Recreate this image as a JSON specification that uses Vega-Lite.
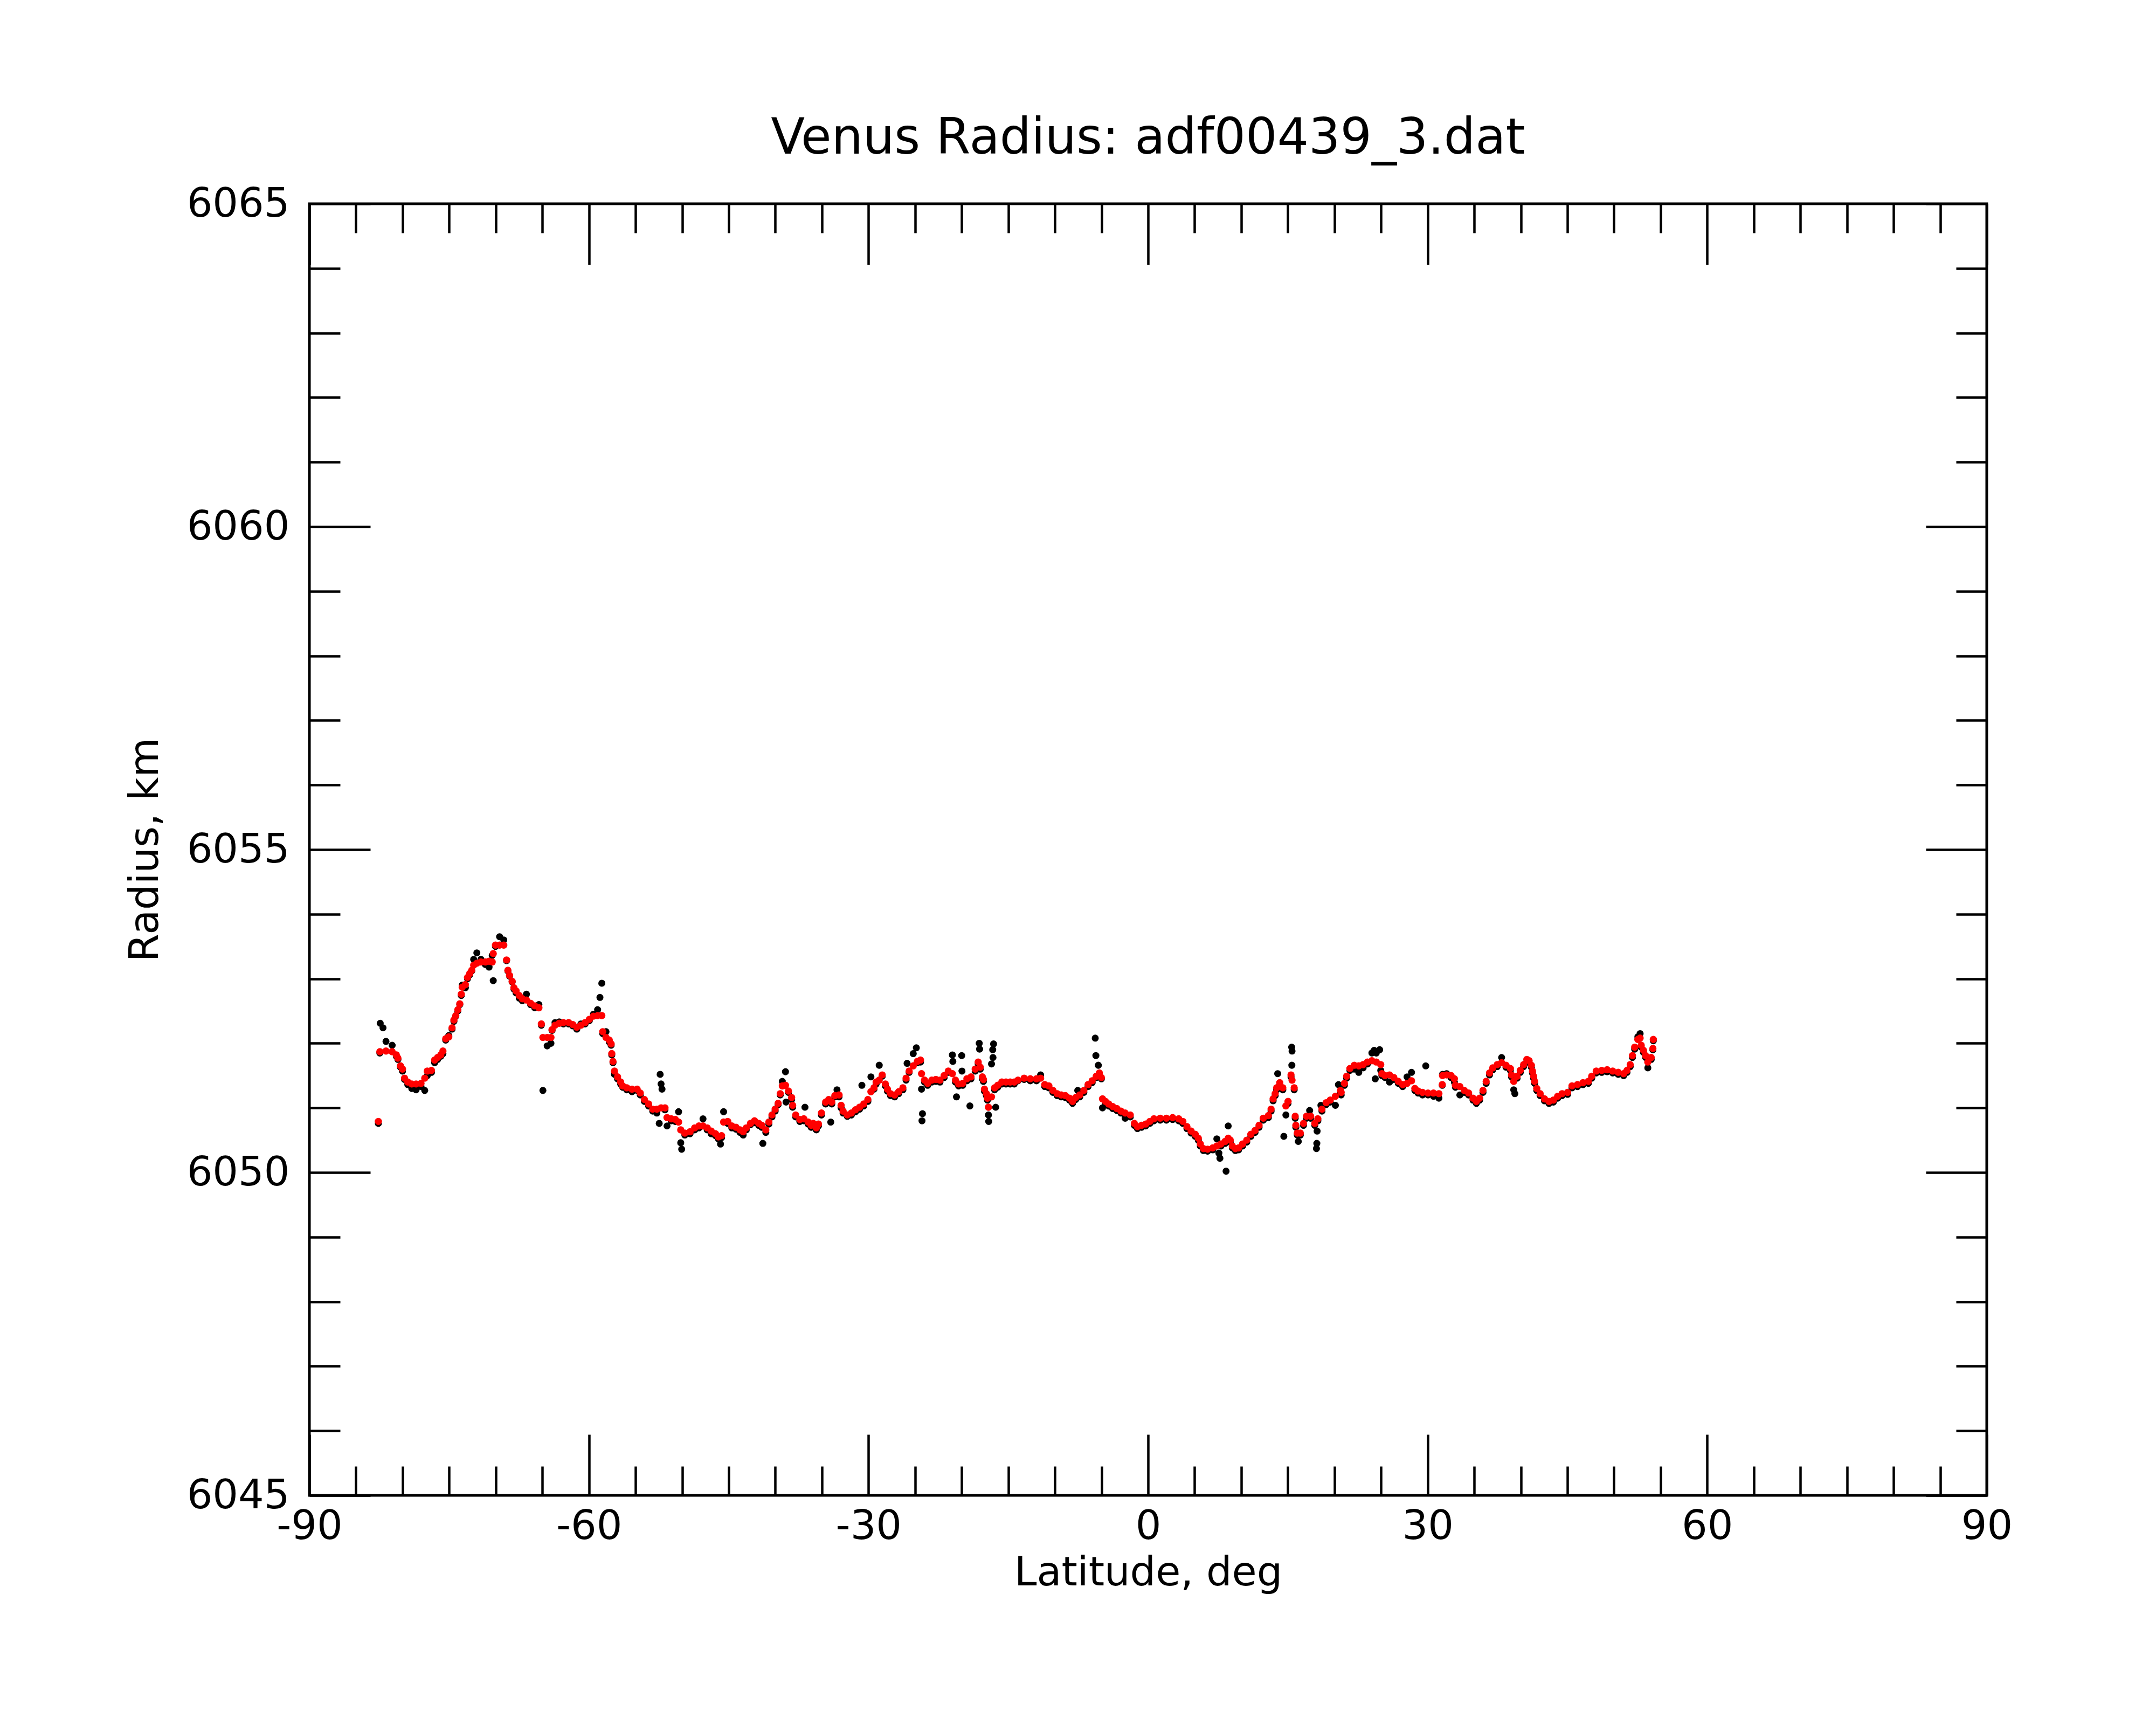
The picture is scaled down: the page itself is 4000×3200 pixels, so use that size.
{
  "$schema": "https://vega.github.io/schema/vega-lite/v6.json",
  "width": 3112,
  "height": 2396,
  "autosize": {"type": "none"},
  "padding": {"left": 574, "top": 378, "right": 314, "bottom": 426},
  "background": "white",
  "title": {
    "text": "Venus Radius: adf00439_3.dat",
    "font": "DejaVu Sans",
    "fontSize": 92,
    "fontWeight": "normal",
    "color": "black",
    "anchor": "middle",
    "frame": "group",
    "baseline": "alphabetic",
    "offset": -36
  },
  "data": {
    "values": [
      {"lat": -82.6, "raw": 6050.76, "fit": 6050.79},
      {"lat": -82.44, "raw": 6051.85, "fit": 6051.87},
      {"lat": -82.4, "raw": 6052.31},
      {"lat": -82.1, "raw": 6052.24},
      {"lat": -81.78, "raw": 6052.03, "fit": 6051.88},
      {"lat": -81.12, "raw": 6051.97, "fit": 6051.87},
      {"lat": -80.67, "raw": 6051.8, "fit": 6051.82},
      {"lat": -80.5, "raw": 6051.75, "fit": 6051.77},
      {"lat": -80.23, "raw": 6051.63, "fit": 6051.65},
      {"lat": -80.01, "raw": 6051.57, "fit": 6051.6},
      {"lat": -79.79, "raw": 6051.44, "fit": 6051.46},
      {"lat": -79.44, "raw": 6051.36, "fit": 6051.4},
      {"lat": -79.01, "raw": 6051.3, "fit": 6051.37},
      {"lat": -78.55, "raw": 6051.28, "fit": 6051.37},
      {"lat": -78.02, "raw": 6051.33, "fit": 6051.38},
      {"lat": -77.62, "raw": 6051.27, "fit": 6051.46},
      {"lat": -77.35, "raw": 6051.5, "fit": 6051.57},
      {"lat": -76.9, "raw": 6051.55, "fit": 6051.58},
      {"lat": -76.56, "raw": 6051.7, "fit": 6051.74},
      {"lat": -76.24, "raw": 6051.75, "fit": 6051.78},
      {"lat": -75.9, "raw": 6051.8, "fit": 6051.82},
      {"lat": -75.67, "raw": 6051.84, "fit": 6051.88},
      {"lat": -75.37, "raw": 6052.05, "fit": 6052.07},
      {"lat": -75.04, "raw": 6052.12, "fit": 6052.1},
      {"lat": -74.69, "raw": 6052.22, "fit": 6052.24},
      {"lat": -74.49, "raw": 6052.34, "fit": 6052.36},
      {"lat": -74.29, "raw": 6052.42, "fit": 6052.43},
      {"lat": -74.07, "raw": 6052.5, "fit": 6052.52},
      {"lat": -73.86, "raw": 6052.6, "fit": 6052.61},
      {"lat": -73.7, "raw": 6052.74, "fit": 6052.76},
      {"lat": -73.6, "raw": 6052.9, "fit": 6052.87},
      {"lat": -73.26, "raw": 6052.86, "fit": 6052.91},
      {"lat": -73.03, "raw": 6053.0, "fit": 6053.02},
      {"lat": -72.8, "raw": 6053.06, "fit": 6053.08},
      {"lat": -72.58, "raw": 6053.12, "fit": 6053.13},
      {"lat": -72.37, "raw": 6053.3, "fit": 6053.21},
      {"lat": -72.03, "raw": 6053.4, "fit": 6053.24},
      {"lat": -71.59, "raw": 6053.3, "fit": 6053.26},
      {"lat": -71.12, "raw": 6053.22, "fit": 6053.26},
      {"lat": -70.72, "raw": 6053.18, "fit": 6053.27},
      {"lat": -70.38, "raw": 6053.36, "fit": 6053.26},
      {"lat": -70.27, "raw": 6052.97, "fit": 6053.39},
      {"lat": -70.03, "raw": 6053.5, "fit": 6053.52},
      {"lat": -69.59, "raw": 6053.65, "fit": 6053.52},
      {"lat": -69.14, "raw": 6053.6, "fit": 6053.52},
      {"lat": -68.84, "raw": 6053.28, "fit": 6053.29},
      {"lat": -68.7, "raw": 6053.12, "fit": 6053.13},
      {"lat": -68.52, "raw": 6053.04, "fit": 6053.05},
      {"lat": -68.24, "raw": 6052.95, "fit": 6052.96},
      {"lat": -68.05, "raw": 6052.84, "fit": 6052.86},
      {"lat": -67.82, "raw": 6052.78, "fit": 6052.81},
      {"lat": -67.48, "raw": 6052.7, "fit": 6052.74},
      {"lat": -67.15, "raw": 6052.66, "fit": 6052.69},
      {"lat": -66.71, "raw": 6052.76, "fit": 6052.67},
      {"lat": -66.26, "raw": 6052.6, "fit": 6052.62},
      {"lat": -65.82, "raw": 6052.55, "fit": 6052.58},
      {"lat": -65.37, "raw": 6052.6, "fit": 6052.55},
      {"lat": -65.11, "raw": 6052.28, "fit": 6052.3},
      {"lat": -64.94, "raw": 6051.27, "fit": 6052.09},
      {"lat": -64.48, "raw": 6051.96, "fit": 6052.09},
      {"lat": -64.08, "raw": 6052.0, "fit": 6052.09},
      {"lat": -63.96, "raw": 6052.2, "fit": 6052.21},
      {"lat": -63.64, "raw": 6052.32, "fit": 6052.28},
      {"lat": -63.19, "raw": 6052.33, "fit": 6052.31},
      {"lat": -62.74, "raw": 6052.3, "fit": 6052.32},
      {"lat": -62.18, "raw": 6052.3, "fit": 6052.32},
      {"lat": -61.73, "raw": 6052.27, "fit": 6052.29},
      {"lat": -61.3, "raw": 6052.22, "fit": 6052.25},
      {"lat": -60.86, "raw": 6052.3, "fit": 6052.28},
      {"lat": -60.41, "raw": 6052.3, "fit": 6052.32},
      {"lat": -59.96, "raw": 6052.35, "fit": 6052.37},
      {"lat": -59.52, "raw": 6052.45, "fit": 6052.42},
      {"lat": -59.07, "raw": 6052.52, "fit": 6052.43},
      {"lat": -58.82, "raw": 6052.71},
      {"lat": -58.62, "raw": 6052.93, "fit": 6052.43},
      {"lat": -58.52, "raw": 6052.15, "fit": 6052.18},
      {"lat": -58.17, "raw": 6052.18, "fit": 6052.09},
      {"lat": -57.82, "raw": 6052.02, "fit": 6052.05},
      {"lat": -57.62, "raw": 6051.97, "fit": 6051.99},
      {"lat": -57.55, "raw": 6051.82, "fit": 6051.84},
      {"lat": -57.42, "raw": 6051.7, "fit": 6051.72},
      {"lat": -57.26, "raw": 6051.52, "fit": 6051.57},
      {"lat": -56.93, "raw": 6051.45, "fit": 6051.48},
      {"lat": -56.6, "raw": 6051.37, "fit": 6051.4},
      {"lat": -56.38, "raw": 6051.32, "fit": 6051.34},
      {"lat": -55.94, "raw": 6051.28, "fit": 6051.31},
      {"lat": -55.38, "raw": 6051.25, "fit": 6051.29},
      {"lat": -54.83, "raw": 6051.27, "fit": 6051.29},
      {"lat": -54.49, "raw": 6051.2, "fit": 6051.23},
      {"lat": -54.05, "raw": 6051.1, "fit": 6051.13},
      {"lat": -53.6, "raw": 6051.03, "fit": 6051.06},
      {"lat": -53.15, "raw": 6050.95, "fit": 6050.98},
      {"lat": -52.71, "raw": 6050.92, "fit": 6050.98},
      {"lat": -52.46, "raw": 6050.76},
      {"lat": -52.36, "raw": 6051.52},
      {"lat": -52.26, "raw": 6051.37, "fit": 6051.0},
      {"lat": -52.16, "raw": 6051.29},
      {"lat": -51.84, "raw": 6050.97, "fit": 6051.0},
      {"lat": -51.62, "raw": 6050.72, "fit": 6050.85},
      {"lat": -51.17, "raw": 6050.8, "fit": 6050.83},
      {"lat": -50.73, "raw": 6050.79, "fit": 6050.82},
      {"lat": -50.38, "raw": 6050.94, "fit": 6050.78},
      {"lat": -50.15, "raw": 6050.46, "fit": 6050.66},
      {"lat": -50.05, "raw": 6050.36},
      {"lat": -49.71, "raw": 6050.58, "fit": 6050.61},
      {"lat": -49.15, "raw": 6050.6, "fit": 6050.63},
      {"lat": -48.65, "raw": 6050.66, "fit": 6050.69},
      {"lat": -48.2, "raw": 6050.69, "fit": 6050.72},
      {"lat": -47.76, "raw": 6050.83, "fit": 6050.72},
      {"lat": -47.31, "raw": 6050.66, "fit": 6050.69},
      {"lat": -46.88, "raw": 6050.6, "fit": 6050.64},
      {"lat": -46.42, "raw": 6050.57, "fit": 6050.6},
      {"lat": -46.11, "raw": 6050.52, "fit": 6050.55},
      {"lat": -45.88, "raw": 6050.44},
      {"lat": -45.77, "raw": 6050.54, "fit": 6050.57},
      {"lat": -45.55, "raw": 6050.94, "fit": 6050.78},
      {"lat": -45.11, "raw": 6050.76, "fit": 6050.79},
      {"lat": -44.67, "raw": 6050.69, "fit": 6050.72},
      {"lat": -44.22, "raw": 6050.67, "fit": 6050.7},
      {"lat": -43.79, "raw": 6050.62, "fit": 6050.66},
      {"lat": -43.45, "raw": 6050.58, "fit": 6050.63},
      {"lat": -43.12, "raw": 6050.66, "fit": 6050.69},
      {"lat": -42.67, "raw": 6050.74, "fit": 6050.76},
      {"lat": -42.23, "raw": 6050.77, "fit": 6050.8},
      {"lat": -41.78, "raw": 6050.73, "fit": 6050.76},
      {"lat": -41.46, "raw": 6050.7, "fit": 6050.73},
      {"lat": -41.34, "raw": 6050.45},
      {"lat": -41.02, "raw": 6050.62, "fit": 6050.66},
      {"lat": -40.69, "raw": 6050.75, "fit": 6050.78},
      {"lat": -40.36, "raw": 6050.86, "fit": 6050.89},
      {"lat": -40.02, "raw": 6050.95, "fit": 6050.98},
      {"lat": -39.7, "raw": 6051.05, "fit": 6051.07},
      {"lat": -39.47, "raw": 6051.2, "fit": 6051.22},
      {"lat": -39.25, "raw": 6051.41, "fit": 6051.34},
      {"lat": -38.91, "raw": 6051.56, "fit": 6051.35},
      {"lat": -38.85, "raw": 6051.09},
      {"lat": -38.59, "raw": 6051.24, "fit": 6051.26},
      {"lat": -38.25, "raw": 6051.13, "fit": 6051.16},
      {"lat": -38.14, "raw": 6051.01, "fit": 6051.04},
      {"lat": -37.81, "raw": 6050.86, "fit": 6050.89},
      {"lat": -37.37, "raw": 6050.79, "fit": 6050.82},
      {"lat": -36.94, "raw": 6050.8, "fit": 6050.83},
      {"lat": -36.82, "raw": 6051.01},
      {"lat": -36.48, "raw": 6050.75, "fit": 6050.78},
      {"lat": -36.15, "raw": 6050.7, "fit": 6050.73},
      {"lat": -35.93, "raw": 6050.73, "fit": 6050.76},
      {"lat": -35.6, "raw": 6050.66, "fit": 6050.69},
      {"lat": -35.37, "raw": 6050.72, "fit": 6050.75},
      {"lat": -35.05, "raw": 6050.89, "fit": 6050.92},
      {"lat": -34.6, "raw": 6051.06, "fit": 6051.09},
      {"lat": -34.27, "raw": 6051.1, "fit": 6051.13},
      {"lat": -34.05, "raw": 6050.78},
      {"lat": -33.94, "raw": 6051.06, "fit": 6051.09},
      {"lat": -33.61, "raw": 6051.17, "fit": 6051.19},
      {"lat": -33.38, "raw": 6051.28},
      {"lat": -33.16, "raw": 6051.17, "fit": 6051.2},
      {"lat": -32.94, "raw": 6051.0, "fit": 6051.04},
      {"lat": -32.73, "raw": 6050.92, "fit": 6050.95},
      {"lat": -32.28, "raw": 6050.87, "fit": 6050.89},
      {"lat": -31.84, "raw": 6050.89, "fit": 6050.92},
      {"lat": -31.4, "raw": 6050.94, "fit": 6050.97},
      {"lat": -30.96, "raw": 6050.98, "fit": 6051.01},
      {"lat": -30.71, "raw": 6051.35},
      {"lat": -30.51, "raw": 6051.03, "fit": 6051.06},
      {"lat": -30.07, "raw": 6051.1, "fit": 6051.13},
      {"lat": -29.74, "raw": 6051.48, "fit": 6051.25},
      {"lat": -29.41, "raw": 6051.29, "fit": 6051.31},
      {"lat": -29.18, "raw": 6051.37, "fit": 6051.4},
      {"lat": -28.85, "raw": 6051.66, "fit": 6051.43},
      {"lat": -28.53, "raw": 6051.49, "fit": 6051.51},
      {"lat": -28.19, "raw": 6051.34, "fit": 6051.37},
      {"lat": -27.97, "raw": 6051.26, "fit": 6051.29},
      {"lat": -27.64, "raw": 6051.19, "fit": 6051.22},
      {"lat": -27.19, "raw": 6051.17, "fit": 6051.2},
      {"lat": -26.76, "raw": 6051.22, "fit": 6051.25},
      {"lat": -26.31, "raw": 6051.28, "fit": 6051.31},
      {"lat": -25.97, "raw": 6051.43, "fit": 6051.46},
      {"lat": -25.86, "raw": 6051.69},
      {"lat": -25.64, "raw": 6051.55, "fit": 6051.57},
      {"lat": -25.2, "raw": 6051.84, "fit": 6051.65},
      {"lat": -24.87, "raw": 6051.93},
      {"lat": -24.76, "raw": 6051.7, "fit": 6051.72},
      {"lat": -24.42, "raw": 6051.71, "fit": 6051.74},
      {"lat": -24.31, "raw": 6051.29, "fit": 6051.53},
      {"lat": -24.26, "raw": 6050.8},
      {"lat": -24.21, "raw": 6050.91},
      {"lat": -23.99, "raw": 6051.4, "fit": 6051.43},
      {"lat": -23.65, "raw": 6051.35, "fit": 6051.38},
      {"lat": -23.21, "raw": 6051.4, "fit": 6051.43},
      {"lat": -22.77, "raw": 6051.41, "fit": 6051.44},
      {"lat": -22.33, "raw": 6051.4, "fit": 6051.43},
      {"lat": -21.88, "raw": 6051.47, "fit": 6051.5},
      {"lat": -21.44, "raw": 6051.55, "fit": 6051.57},
      {"lat": -21.0, "raw": 6051.82, "fit": 6051.53},
      {"lat": -20.95, "raw": 6051.72},
      {"lat": -20.67, "raw": 6051.4, "fit": 6051.43},
      {"lat": -20.56, "raw": 6051.17},
      {"lat": -20.33, "raw": 6051.34, "fit": 6051.37},
      {"lat": -20.0, "raw": 6051.81},
      {"lat": -19.97, "raw": 6051.57},
      {"lat": -19.89, "raw": 6051.35, "fit": 6051.38},
      {"lat": -19.44, "raw": 6051.42, "fit": 6051.45},
      {"lat": -19.12, "raw": 6051.03},
      {"lat": -19.0, "raw": 6051.45, "fit": 6051.48},
      {"lat": -18.55, "raw": 6051.57, "fit": 6051.6},
      {"lat": -18.23, "raw": 6051.68, "fit": 6051.71},
      {"lat": -18.12, "raw": 6052.0},
      {"lat": -18.08, "raw": 6051.91},
      {"lat": -18.01, "raw": 6051.6, "fit": 6051.63},
      {"lat": -17.78, "raw": 6051.45, "fit": 6051.48},
      {"lat": -17.67, "raw": 6051.41, "fit": 6051.44},
      {"lat": -17.56, "raw": 6051.26, "fit": 6051.29},
      {"lat": -17.35, "raw": 6051.19, "fit": 6051.22},
      {"lat": -17.24, "raw": 6051.12, "fit": 6051.15},
      {"lat": -17.13, "raw": 6050.89, "fit": 6051.01},
      {"lat": -17.1, "raw": 6050.79},
      {"lat": -16.8, "raw": 6051.68, "fit": 6051.17},
      {"lat": -16.67, "raw": 6051.9},
      {"lat": -16.64, "raw": 6051.78},
      {"lat": -16.58, "raw": 6051.99},
      {"lat": -16.47, "raw": 6051.28, "fit": 6051.31},
      {"lat": -16.35, "raw": 6051.01},
      {"lat": -16.13, "raw": 6051.32, "fit": 6051.35},
      {"lat": -15.69, "raw": 6051.37, "fit": 6051.4},
      {"lat": -15.25, "raw": 6051.37, "fit": 6051.4},
      {"lat": -14.8, "raw": 6051.37, "fit": 6051.4},
      {"lat": -14.36, "raw": 6051.37, "fit": 6051.4},
      {"lat": -13.96, "raw": 6051.42, "fit": 6051.43},
      {"lat": -13.3, "raw": 6051.44, "fit": 6051.46},
      {"lat": -12.64, "raw": 6051.42, "fit": 6051.45},
      {"lat": -11.98, "raw": 6051.42, "fit": 6051.45},
      {"lat": -11.53, "raw": 6051.51, "fit": 6051.46},
      {"lat": -11.09, "raw": 6051.33, "fit": 6051.36},
      {"lat": -10.64, "raw": 6051.31, "fit": 6051.34},
      {"lat": -10.21, "raw": 6051.24, "fit": 6051.27},
      {"lat": -9.76, "raw": 6051.19, "fit": 6051.22},
      {"lat": -9.32, "raw": 6051.17, "fit": 6051.2},
      {"lat": -8.87, "raw": 6051.16, "fit": 6051.19},
      {"lat": -8.43, "raw": 6051.12, "fit": 6051.15},
      {"lat": -8.1, "raw": 6051.07, "fit": 6051.1},
      {"lat": -7.77, "raw": 6051.13, "fit": 6051.16},
      {"lat": -7.55, "raw": 6051.27},
      {"lat": -7.33, "raw": 6051.17, "fit": 6051.2},
      {"lat": -6.89, "raw": 6051.24, "fit": 6051.27},
      {"lat": -6.44, "raw": 6051.33, "fit": 6051.36},
      {"lat": -6.0, "raw": 6051.39, "fit": 6051.42},
      {"lat": -5.67, "raw": 6052.08},
      {"lat": -5.6, "raw": 6051.81},
      {"lat": -5.56, "raw": 6051.47, "fit": 6051.49},
      {"lat": -5.34, "raw": 6051.66},
      {"lat": -5.23, "raw": 6051.52, "fit": 6051.54},
      {"lat": -5.01, "raw": 6051.45, "fit": 6051.47},
      {"lat": -4.89, "raw": 6051.0, "fit": 6051.14},
      {"lat": -4.57, "raw": 6051.07, "fit": 6051.1},
      {"lat": -4.23, "raw": 6051.03, "fit": 6051.06},
      {"lat": -3.8, "raw": 6050.99, "fit": 6051.02},
      {"lat": -3.35, "raw": 6050.96, "fit": 6050.99},
      {"lat": -2.91, "raw": 6050.92, "fit": 6050.95},
      {"lat": -2.46, "raw": 6050.84, "fit": 6050.92},
      {"lat": -1.91, "raw": 6050.86, "fit": 6050.89},
      {"lat": -1.47, "raw": 6050.73, "fit": 6050.76},
      {"lat": -1.14, "raw": 6050.68, "fit": 6050.71},
      {"lat": -0.69, "raw": 6050.7, "fit": 6050.73},
      {"lat": -0.25, "raw": 6050.72, "fit": 6050.75},
      {"lat": 0.19, "raw": 6050.76, "fit": 6050.79},
      {"lat": 0.63, "raw": 6050.8, "fit": 6050.83},
      {"lat": 1.3, "raw": 6050.81, "fit": 6050.84},
      {"lat": 1.96, "raw": 6050.81, "fit": 6050.84},
      {"lat": 2.63, "raw": 6050.82, "fit": 6050.85},
      {"lat": 3.29, "raw": 6050.8, "fit": 6050.83},
      {"lat": 3.73, "raw": 6050.76, "fit": 6050.79},
      {"lat": 4.17, "raw": 6050.68, "fit": 6050.71},
      {"lat": 4.62, "raw": 6050.61, "fit": 6050.64},
      {"lat": 5.06, "raw": 6050.56, "fit": 6050.59},
      {"lat": 5.39, "raw": 6050.5, "fit": 6050.53},
      {"lat": 5.61, "raw": 6050.41, "fit": 6050.44},
      {"lat": 5.94, "raw": 6050.34, "fit": 6050.37},
      {"lat": 6.39, "raw": 6050.33, "fit": 6050.36},
      {"lat": 6.94, "raw": 6050.35, "fit": 6050.38},
      {"lat": 7.38, "raw": 6050.52, "fit": 6050.41},
      {"lat": 7.6, "raw": 6050.3},
      {"lat": 7.71, "raw": 6050.22},
      {"lat": 7.82, "raw": 6050.41, "fit": 6050.44},
      {"lat": 8.26, "raw": 6050.45, "fit": 6050.48},
      {"lat": 8.37, "raw": 6050.02},
      {"lat": 8.6, "raw": 6050.72, "fit": 6050.53},
      {"lat": 8.82, "raw": 6050.47, "fit": 6050.5},
      {"lat": 9.04, "raw": 6050.38, "fit": 6050.41},
      {"lat": 9.37, "raw": 6050.34, "fit": 6050.37},
      {"lat": 9.71, "raw": 6050.35, "fit": 6050.38},
      {"lat": 10.14, "raw": 6050.41, "fit": 6050.44},
      {"lat": 10.59, "raw": 6050.47, "fit": 6050.5},
      {"lat": 11.03, "raw": 6050.56, "fit": 6050.59},
      {"lat": 11.48, "raw": 6050.62, "fit": 6050.65},
      {"lat": 11.91, "raw": 6050.7, "fit": 6050.73},
      {"lat": 12.36, "raw": 6050.81, "fit": 6050.84},
      {"lat": 12.91, "raw": 6050.85, "fit": 6050.88},
      {"lat": 13.2, "raw": 6050.95, "fit": 6050.98},
      {"lat": 13.42, "raw": 6051.11, "fit": 6051.14},
      {"lat": 13.64, "raw": 6051.19, "fit": 6051.22},
      {"lat": 13.8, "raw": 6051.28, "fit": 6051.31},
      {"lat": 13.91, "raw": 6051.53},
      {"lat": 14.13, "raw": 6051.36, "fit": 6051.39},
      {"lat": 14.46, "raw": 6051.28, "fit": 6051.31},
      {"lat": 14.57, "raw": 6050.56},
      {"lat": 14.79, "raw": 6050.89, "fit": 6051.03},
      {"lat": 15.02, "raw": 6051.07, "fit": 6051.1},
      {"lat": 15.34, "raw": 6051.48, "fit": 6051.51},
      {"lat": 15.41, "raw": 6051.94},
      {"lat": 15.43, "raw": 6051.66},
      {"lat": 15.45, "raw": 6051.88, "fit": 6051.43},
      {"lat": 15.68, "raw": 6051.28, "fit": 6051.31},
      {"lat": 15.79, "raw": 6050.84, "fit": 6050.87},
      {"lat": 15.86, "raw": 6050.7, "fit": 6050.73},
      {"lat": 16.01, "raw": 6050.58, "fit": 6050.61},
      {"lat": 16.12, "raw": 6050.48},
      {"lat": 16.34, "raw": 6050.58, "fit": 6050.61},
      {"lat": 16.68, "raw": 6050.73, "fit": 6050.76},
      {"lat": 17.0, "raw": 6050.84, "fit": 6050.87},
      {"lat": 17.34, "raw": 6050.96},
      {"lat": 17.45, "raw": 6050.84, "fit": 6050.87},
      {"lat": 17.89, "raw": 6050.73, "fit": 6050.76},
      {"lat": 18.07, "raw": 6050.37},
      {"lat": 18.11, "raw": 6050.45},
      {"lat": 18.14, "raw": 6050.64},
      {"lat": 18.22, "raw": 6050.8, "fit": 6050.83},
      {"lat": 18.55, "raw": 6051.04},
      {"lat": 18.66, "raw": 6050.95, "fit": 6050.98},
      {"lat": 19.11, "raw": 6051.05, "fit": 6051.08},
      {"lat": 19.55, "raw": 6051.09, "fit": 6051.12},
      {"lat": 20.1, "raw": 6051.04, "fit": 6051.18},
      {"lat": 20.43, "raw": 6051.36},
      {"lat": 20.65, "raw": 6051.24, "fit": 6051.27},
      {"lat": 20.72, "raw": 6051.2, "fit": 6051.24},
      {"lat": 21.07, "raw": 6051.35, "fit": 6051.38},
      {"lat": 21.31, "raw": 6051.46, "fit": 6051.49},
      {"lat": 21.66, "raw": 6051.58, "fit": 6051.61},
      {"lat": 22.13, "raw": 6051.6, "fit": 6051.66},
      {"lat": 22.61, "raw": 6051.55, "fit": 6051.65},
      {"lat": 23.08, "raw": 6051.62, "fit": 6051.67},
      {"lat": 23.54, "raw": 6051.68, "fit": 6051.71},
      {"lat": 24.02, "raw": 6051.85, "fit": 6051.73},
      {"lat": 24.26, "raw": 6051.89},
      {"lat": 24.38, "raw": 6051.45},
      {"lat": 24.49, "raw": 6051.85, "fit": 6051.71},
      {"lat": 24.85, "raw": 6051.9},
      {"lat": 24.97, "raw": 6051.58, "fit": 6051.67},
      {"lat": 25.09, "raw": 6051.5, "fit": 6051.53},
      {"lat": 25.43, "raw": 6051.47, "fit": 6051.5},
      {"lat": 25.91, "raw": 6051.4, "fit": 6051.51},
      {"lat": 26.38, "raw": 6051.44, "fit": 6051.47},
      {"lat": 26.85, "raw": 6051.38, "fit": 6051.41},
      {"lat": 27.32, "raw": 6051.33, "fit": 6051.36},
      {"lat": 27.79, "raw": 6051.48, "fit": 6051.38},
      {"lat": 28.27, "raw": 6051.55, "fit": 6051.42},
      {"lat": 28.63, "raw": 6051.27, "fit": 6051.3},
      {"lat": 28.97, "raw": 6051.23, "fit": 6051.26},
      {"lat": 29.45, "raw": 6051.2, "fit": 6051.24},
      {"lat": 29.8, "raw": 6051.65},
      {"lat": 30.04, "raw": 6051.2, "fit": 6051.23},
      {"lat": 30.63, "raw": 6051.18, "fit": 6051.23},
      {"lat": 31.21, "raw": 6051.15, "fit": 6051.22},
      {"lat": 31.57, "raw": 6051.35, "fit": 6051.36},
      {"lat": 31.6, "raw": 6051.52, "fit": 6051.5},
      {"lat": 32.04, "raw": 6051.53, "fit": 6051.51},
      {"lat": 32.51, "raw": 6051.47, "fit": 6051.5},
      {"lat": 32.87, "raw": 6051.4, "fit": 6051.45},
      {"lat": 32.98, "raw": 6051.32, "fit": 6051.35},
      {"lat": 33.46, "raw": 6051.2, "fit": 6051.33},
      {"lat": 33.93, "raw": 6051.24, "fit": 6051.27},
      {"lat": 34.4, "raw": 6051.2, "fit": 6051.23},
      {"lat": 34.87, "raw": 6051.12, "fit": 6051.15},
      {"lat": 35.23, "raw": 6051.07, "fit": 6051.1},
      {"lat": 35.58, "raw": 6051.12, "fit": 6051.15},
      {"lat": 35.94, "raw": 6051.24, "fit": 6051.27},
      {"lat": 36.28, "raw": 6051.38, "fit": 6051.41},
      {"lat": 36.64, "raw": 6051.51, "fit": 6051.54},
      {"lat": 36.99, "raw": 6051.59, "fit": 6051.62},
      {"lat": 37.47, "raw": 6051.64, "fit": 6051.67},
      {"lat": 37.94, "raw": 6051.78, "fit": 6051.7},
      {"lat": 38.41, "raw": 6051.63, "fit": 6051.66},
      {"lat": 38.88, "raw": 6051.58, "fit": 6051.61},
      {"lat": 39.0, "raw": 6051.48, "fit": 6051.51},
      {"lat": 39.24, "raw": 6051.28, "fit": 6051.41},
      {"lat": 39.36, "raw": 6051.22},
      {"lat": 39.6, "raw": 6051.46, "fit": 6051.49},
      {"lat": 39.94, "raw": 6051.55, "fit": 6051.58},
      {"lat": 40.3, "raw": 6051.64, "fit": 6051.67},
      {"lat": 40.65, "raw": 6051.72, "fit": 6051.75},
      {"lat": 40.89, "raw": 6051.7, "fit": 6051.73},
      {"lat": 41.13, "raw": 6051.63, "fit": 6051.66},
      {"lat": 41.25, "raw": 6051.54, "fit": 6051.57},
      {"lat": 41.37, "raw": 6051.46, "fit": 6051.49},
      {"lat": 41.48, "raw": 6051.38, "fit": 6051.41},
      {"lat": 41.71, "raw": 6051.27, "fit": 6051.3},
      {"lat": 42.07, "raw": 6051.19, "fit": 6051.22},
      {"lat": 42.54, "raw": 6051.11, "fit": 6051.14},
      {"lat": 43.02, "raw": 6051.07, "fit": 6051.1},
      {"lat": 43.49, "raw": 6051.09, "fit": 6051.12},
      {"lat": 43.95, "raw": 6051.15, "fit": 6051.18},
      {"lat": 44.43, "raw": 6051.19, "fit": 6051.22},
      {"lat": 45.02, "raw": 6051.21, "fit": 6051.24},
      {"lat": 45.49, "raw": 6051.31, "fit": 6051.34},
      {"lat": 46.08, "raw": 6051.33, "fit": 6051.36},
      {"lat": 46.67, "raw": 6051.36, "fit": 6051.39},
      {"lat": 47.25, "raw": 6051.38, "fit": 6051.41},
      {"lat": 47.61, "raw": 6051.46, "fit": 6051.49},
      {"lat": 48.09, "raw": 6051.54, "fit": 6051.57},
      {"lat": 48.68, "raw": 6051.55, "fit": 6051.58},
      {"lat": 49.26, "raw": 6051.56, "fit": 6051.59},
      {"lat": 49.86, "raw": 6051.54, "fit": 6051.57},
      {"lat": 50.45, "raw": 6051.52, "fit": 6051.55},
      {"lat": 51.03, "raw": 6051.5, "fit": 6051.53},
      {"lat": 51.39, "raw": 6051.55, "fit": 6051.58},
      {"lat": 51.74, "raw": 6051.64, "fit": 6051.67},
      {"lat": 51.98, "raw": 6051.78, "fit": 6051.81},
      {"lat": 52.22, "raw": 6051.91, "fit": 6051.94},
      {"lat": 52.56, "raw": 6052.1, "fit": 6052.06},
      {"lat": 52.8, "raw": 6052.15, "fit": 6052.08},
      {"lat": 52.92, "raw": 6051.94, "fit": 6051.97},
      {"lat": 53.16, "raw": 6051.86, "fit": 6051.89},
      {"lat": 53.39, "raw": 6051.78, "fit": 6051.81},
      {"lat": 53.63, "raw": 6051.62, "fit": 6051.71},
      {"lat": 53.99, "raw": 6051.75, "fit": 6051.78},
      {"lat": 54.17, "raw": 6051.9, "fit": 6051.92},
      {"lat": 54.22, "raw": 6052.04, "fit": 6052.06}
    ]
  },
  "config": {
    "view": {"stroke": "black", "strokeWidth": 5},
    "font": "DejaVu Sans",
    "axis": {
      "grid": false,
      "domain": false,
      "tickColor": "black",
      "tickWidth": 4.5,
      "labelColor": "black",
      "titleColor": "black",
      "labelFont": "DejaVu Sans",
      "titleFont": "DejaVu Sans",
      "labelFontSize": 75,
      "titleFontSize": 75,
      "titleFontWeight": "normal",
      "labelFlush": false,
      "labelOverlap": false,
      "labelLimit": 0
    }
  },
  "resolve": {"axis": {"x": "independent", "y": "independent"}},
  "layer": [
    {
      "mark": {"type": "circle", "color": "black", "size": 170, "opacity": 1},
      "encoding": {
        "x": {
          "field": "lat",
          "type": "quantitative",
          "scale": {"domain": [-90, 90], "nice": false, "zero": false},
          "axis": {
            "orient": "bottom",
            "values": [-90, -60, -30, 0, 30, 60, 90],
            "tickSize": -113,
            "labelPadding": 134,
            "labelExpr": "datum.value < 0 ? '-' + format(-datum.value, 'd') : format(datum.value, 'd')",
            "title": "Latitude, deg",
            "titleX": 1556,
            "titleY": 166,
            "titleBaseline": "alphabetic",
            "titleAlign": "center"
          }
        },
        "y": {
          "field": "raw",
          "type": "quantitative",
          "scale": {"domain": [6045, 6065], "nice": false, "zero": false},
          "axis": {
            "orient": "left",
            "values": [6045, 6050, 6055, 6060, 6065],
            "format": "d",
            "tickSize": -113,
            "labelPadding": 150,
            "title": "Radius, km",
            "titleX": -282,
            "titleY": 1198,
            "titleAngle": -90,
            "titleBaseline": "alphabetic",
            "titleAlign": "center"
          }
        }
      }
    },
    {
      "mark": {"type": "circle", "color": "#ff0000", "size": 180, "opacity": 1},
      "encoding": {
        "x": {
          "field": "lat",
          "type": "quantitative",
          "axis": {
            "orient": "bottom",
            "values": [-85, -80, -75, -70, -65, -55, -50, -45, -40, -35, -25, -20, -15, -10, -5, 5, 10, 15, 20, 25, 35, 40, 45, 50, 55, 65, 70, 75, 80, 85],
            "tickSize": -54,
            "labels": false,
            "title": null
          }
        },
        "y": {
          "field": "fit",
          "type": "quantitative",
          "axis": {
            "orient": "left",
            "values": [6046, 6047, 6048, 6049, 6051, 6052, 6053, 6054, 6056, 6057, 6058, 6059, 6061, 6062, 6063, 6064],
            "tickSize": -57,
            "labels": false,
            "title": null
          }
        }
      }
    },
    {
      "mark": {"type": "circle", "opacity": 0},
      "encoding": {
        "x": {
          "field": "lat",
          "type": "quantitative",
          "axis": {
            "orient": "top",
            "values": [-90, -60, -30, 0, 30, 60, 90],
            "tickSize": -113,
            "labels": false,
            "title": null
          }
        },
        "y": {
          "field": "raw",
          "type": "quantitative",
          "axis": {
            "orient": "right",
            "values": [6045, 6050, 6055, 6060, 6065],
            "tickSize": -113,
            "labels": false,
            "title": null
          }
        }
      }
    },
    {
      "mark": {"type": "circle", "opacity": 0},
      "encoding": {
        "x": {
          "field": "lat",
          "type": "quantitative",
          "axis": {
            "orient": "top",
            "values": [-85, -80, -75, -70, -65, -55, -50, -45, -40, -35, -25, -20, -15, -10, -5, 5, 10, 15, 20, 25, 35, 40, 45, 50, 55, 65, 70, 75, 80, 85],
            "tickSize": -54,
            "labels": false,
            "title": null
          }
        },
        "y": {
          "field": "raw",
          "type": "quantitative",
          "axis": {
            "orient": "right",
            "values": [6046, 6047, 6048, 6049, 6051, 6052, 6053, 6054, 6056, 6057, 6058, 6059, 6061, 6062, 6063, 6064],
            "tickSize": -57,
            "labels": false,
            "title": null
          }
        }
      }
    }
  ]
}
